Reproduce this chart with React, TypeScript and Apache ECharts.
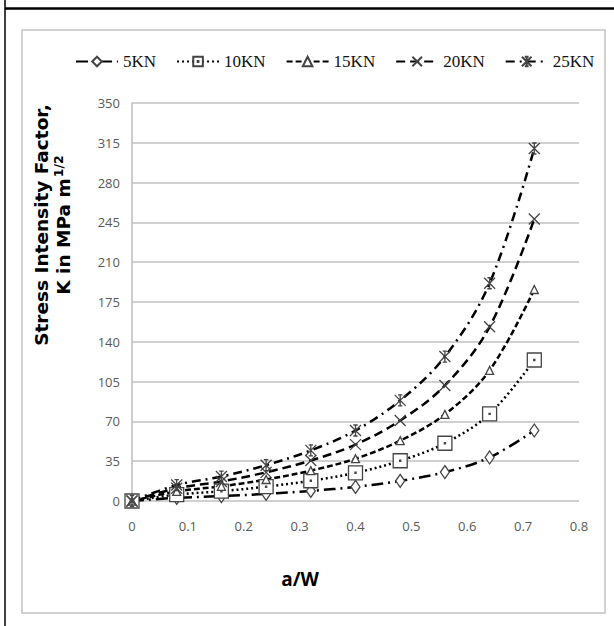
import React, { useEffect, useRef } from "react";
import * as echarts from "echarts";

const xValues = [0, 0.08, 0.16, 0.24, 0.32, 0.4, 0.48, 0.56, 0.64, 0.72];
const k5 = [0, 2.8, 4.3, 6.3, 8.9, 12.4, 17.7, 25.4, 38.3, 62];
const k10 = [0, 5.6, 8.6, 12.6, 17.8, 24.8, 35.4, 50.8, 76.6, 124];
const k15 = [0, 8.4, 12.9, 18.9, 26.7, 37.2, 53.1, 76.2, 114.9, 186];
const k20 = [0, 11.2, 17.2, 25.2, 35.6, 49.6, 70.8, 101.6, 153.2, 248];
const k25 = [0, 14, 21.5, 31.5, 44.5, 62, 88.5, 127, 191.5, 310];
const seriesNames = ["5KN", "10KN", "15KN", "20KN", "25KN"];

const SQUARE = "path://M0,0H10V10H0Z M4.6,4.6H5.4V5.4H4.6Z";
const CROSS = "path://M0,0L10,10M10,0L0,10";
const STAR = "path://M0,0L10,10M10,0L0,10M5,0V10M3,0H7M3,10H7";

export default function App() {
  const ref = useRef<HTMLDivElement>(null);
  useEffect(() => {
    if (!ref.current) return;
    const chart = echarts.init(ref.current, undefined, { renderer: "svg" });
    const pair = (ys: number[]) => xValues.map((x, i) => [x, ys[i]]);
    const styles = [
      { data: k5, dash: [12, 5, 2, 5], symbol: "diamond", size: [9, 13] },
      { data: k10, dash: [2, 3], symbol: SQUARE, size: 14 },
      { data: k15, dash: [6, 3], symbol: "triangle", size: 8 },
      { data: k20, dash: [9, 5], symbol: CROSS, size: 11 },
      { data: k25, dash: [9, 5, 2, 5], symbol: STAR, size: 11 },
    ];
    const option: any = {
      animation: false,
      backgroundColor: "#fff",
      legend: {
        left: 70,
        top: 48,
        itemWidth: 42,
        itemHeight: 12,
        itemGap: 20,
        textStyle: { fontFamily: "Liberation Serif", fontSize: 17, color: "#111" },
        data: seriesNames,
      },
      grid: { left: 132, right: 35, top: 103, bottom: 125 },
      xAxis: {
        type: "value",
        min: 0,
        max: 0.8,
        interval: 0.1,
        axisLine: { show: false },
        axisTick: { show: false },
        splitLine: { show: false },
        axisLabel: { margin: 18, color: "#595959", fontSize: 13, fontFamily: "Open Sans" },
      },
      yAxis: {
        type: "value",
        min: 0,
        max: 350,
        interval: 35,
        axisLine: { show: true, lineStyle: { color: "#bdbdbd", width: 1.5 } },
        axisTick: { show: false },
        splitLine: { lineStyle: { color: "#c0c0c0", width: 1.5 } },
        axisLabel: { margin: 12, color: "#595959", fontSize: 13, fontFamily: "Open Sans" },
      },
      series: styles.map((s, i) => ({
        name: seriesNames[i],
        type: "line",
        data: pair(s.data),
        smooth: 0.35,
        symbol: s.symbol,
        symbolSize: s.size,
        showAllSymbol: true,
        lineStyle: { color: "#000", width: 2.5, type: s.dash },
        itemStyle: { color: "#fff", borderColor: "#444", borderWidth: 1.3 },
        z: 3,
      })),
      graphic: [
        { type: "line", shape: { x1: 5, y1: 0, x2: 5, y2: 626 }, style: { stroke: "#000", lineWidth: 1.5 } },
        { type: "line", shape: { x1: 5, y1: 8.5, x2: 614, y2: 8.5 }, style: { stroke: "#000", lineWidth: 2.5 } },
        {
          type: "rect",
          shape: { x: 22, y: 30, width: 583, height: 583 },
          style: { fill: "none", stroke: "#c4c4c4", lineWidth: 1.5 },
          z: -1,
        },
        {
          type: "text",
          x: 41,
          y: 225,
          rotation: Math.PI / 2,
          style: {
            text: "Stress Intensity Factor,",
            fontFamily: "DejaVu Sans",
            fontWeight: "bold",
            fontSize: 18.5,
            fill: "#000",
            align: "center",
            verticalAlign: "middle",
          },
        },
        {
          type: "text",
          x: 62,
          y: 225,
          rotation: Math.PI / 2,
          style: {
            text: "{a|K in MPa m}{b|1/2}",
            fontFamily: "DejaVu Sans",
            fontWeight: "bold",
            fill: "#000",
            align: "center",
            verticalAlign: "middle",
            rich: {
              a: { fontFamily: "DejaVu Sans", fontWeight: "bold", fontSize: 18.5, fill: "#000", lineHeight: 21, verticalAlign: "bottom" },
              b: { fontFamily: "DejaVu Sans", fontWeight: "bold", fontSize: 12.5, fill: "#000", lineHeight: 21, verticalAlign: "top", padding: [0, 0, 8, 1] },
            },
          },
        },
        {
          type: "text",
          x: 300,
          y: 579,
          style: {
            text: "a/W",
            fontFamily: "Open Sans",
            fontWeight: "bold",
            fontSize: 19,
            fill: "#000",
            align: "center",
            verticalAlign: "middle",
          },
        },
      ],
    };
    chart.setOption(option);
    return () => chart.dispose();
  }, []);
  return <div ref={ref} style={{ position: "absolute", left: 0, top: 0, width: 614, height: 626 }} />;
}
